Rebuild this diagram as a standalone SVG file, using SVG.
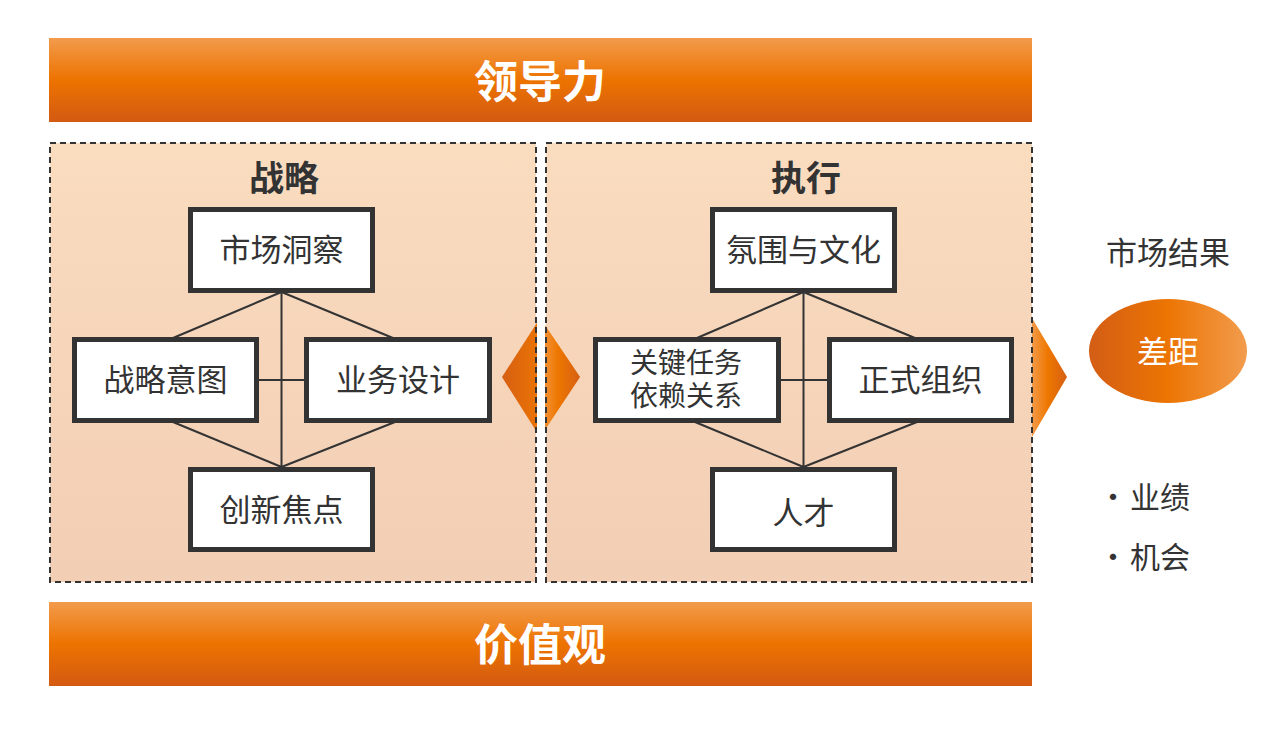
<svg xmlns="http://www.w3.org/2000/svg" width="1280" height="731" viewBox="0 0 1280 731">
<defs>
<linearGradient id="bar" x1="0" y1="0" x2="0" y2="1">
<stop offset="0" stop-color="#f29b4c"/>
<stop offset="0.5" stop-color="#ed7300"/>
<stop offset="1" stop-color="#d35a12"/>
</linearGradient>
<linearGradient id="panel" x1="0" y1="0" x2="0" y2="1">
<stop offset="0" stop-color="#fadcbf"/>
<stop offset="1" stop-color="#f2ceb4"/>
</linearGradient>
<linearGradient id="toL" x1="0" y1="0" x2="1" y2="0">
<stop offset="0" stop-color="#d65f14"/>
<stop offset="0.55" stop-color="#ee7700"/>
<stop offset="1" stop-color="#f39a48"/>
</linearGradient>
<linearGradient id="toR" x1="0" y1="0" x2="1" y2="0">
<stop offset="0" stop-color="#f39a48"/>
<stop offset="0.45" stop-color="#ee7700"/>
<stop offset="1" stop-color="#d65f14"/>
</linearGradient>
<linearGradient id="ell" x1="0" y1="0" x2="1" y2="0">
<stop offset="0" stop-color="#d35d15"/>
<stop offset="0.5" stop-color="#ec7503"/>
<stop offset="1" stop-color="#f29c4e"/>
</linearGradient>
</defs>
<style>
text{font-family:"Noto Sans CJK SC","Noto Sans",sans-serif;text-anchor:middle;dominant-baseline:central}
.bt{fill:#fff;font-size:44px;font-weight:bold}
.pt{fill:#333;font-size:35px;font-weight:bold}
.nt{fill:#333;font-size:31px}
.nt2{fill:#333;font-size:28px}
.side{fill:#333;font-size:30px;text-anchor:start}
.node rect{fill:#fff;stroke:#333;stroke-width:5}
.frame{fill:none;stroke:#333;stroke-width:2;stroke-dasharray:6 4}
#connectors line{stroke:#333;stroke-width:2}
</style>
<rect width="1280" height="731" fill="#fff"/>

<g id="bar-top">
<rect x="49" y="38" width="983" height="84" fill="url(#bar)"/>
<text class="bt" x="540" y="79">领导力</text>
</g>
<g id="bar-bottom">
<rect x="49" y="602" width="983" height="84" fill="url(#bar)"/>
<text class="bt" x="540" y="642">价值观</text>
</g>

<rect x="50" y="143" width="486" height="439" fill="url(#panel)"/>
<rect x="546" y="143" width="486" height="439" fill="url(#panel)"/>

<g id="arrow-mid">
<polygon points="502,377 540,318 580,377 540,437" fill="url(#toL)"/>
<polygon points="540,318 580,377 540,437" fill="url(#toR)"/>
<rect x="537" y="300" width="8" height="160" fill="#fff"/>
</g>
<g id="arrow-right">
<polygon points="1032,318 1067,377 1032,437" fill="url(#toR)"/>
</g>

<rect class="frame" x="50" y="143" width="486" height="439"/>
<rect class="frame" x="546" y="143" width="486" height="439"/>

<text class="pt" x="284" y="175">战略</text>
<text class="pt" x="806" y="175">执行</text>

<g id="connectors">
<line x1="281.5" y1="292" x2="281.5" y2="467"/>
<line x1="259" y1="380" x2="304" y2="380"/>
<line x1="281.5" y1="292" x2="173" y2="338"/>
<line x1="281.5" y1="292" x2="393" y2="338"/>
<line x1="173" y1="422" x2="281.5" y2="467"/>
<line x1="395" y1="422" x2="281.5" y2="467"/>
<line x1="803.5" y1="292" x2="803.5" y2="467"/>
<line x1="781" y1="380" x2="827" y2="380"/>
<line x1="803.5" y1="292" x2="697" y2="338"/>
<line x1="803.5" y1="292" x2="915" y2="338"/>
<line x1="695" y1="422" x2="803.5" y2="467"/>
<line x1="917" y1="422" x2="803.5" y2="467"/>
</g>

<g id="n-market" class="node"><rect x="190.5" y="209.5" width="182" height="81"/><text class="nt" x="281.5" y="247">市场洞察</text></g>
<g id="n-intent" class="node"><rect x="74.5" y="339.5" width="182" height="81"/><text class="nt" x="165.5" y="377">战略意图</text></g>
<g id="n-design" class="node"><rect x="306.5" y="339.5" width="183" height="81"/><text class="nt" x="398" y="377">业务设计</text></g>
<g id="n-innov" class="node"><rect x="190.5" y="469.5" width="182" height="80"/><text class="nt" x="281.5" y="507">创新焦点</text></g>

<g id="n-culture" class="node"><rect x="712.5" y="209.5" width="182" height="81"/><text class="nt" x="803.5" y="247">氛围与文化</text></g>
<g id="n-task" class="node"><rect x="595.5" y="339.5" width="183" height="81"/><text class="nt2" x="686" y="361">关键任务<tspan x="686" dy="33">依赖关系</tspan></text></g>
<g id="n-org" class="node"><rect x="829.5" y="339.5" width="182" height="81"/><text class="nt" x="920.5" y="377">正式组织</text></g>
<g id="n-talent" class="node"><rect x="712.5" y="469.5" width="182" height="80"/><text class="nt" x="803.5" y="510">人才</text></g>

<text class="nt" x="1168" y="250">市场结果</text>
<g id="n-gap">
<ellipse cx="1168" cy="351" rx="79" ry="52" fill="url(#ell)"/>
<text class="nt" x="1168" y="349" style="fill:#fff">差距</text>
</g>
<text class="side" x="1098" y="495">·<tspan x="1130">业绩</tspan></text>
<text class="side" x="1098" y="555">·<tspan x="1130">机会</tspan></text>
</svg>
